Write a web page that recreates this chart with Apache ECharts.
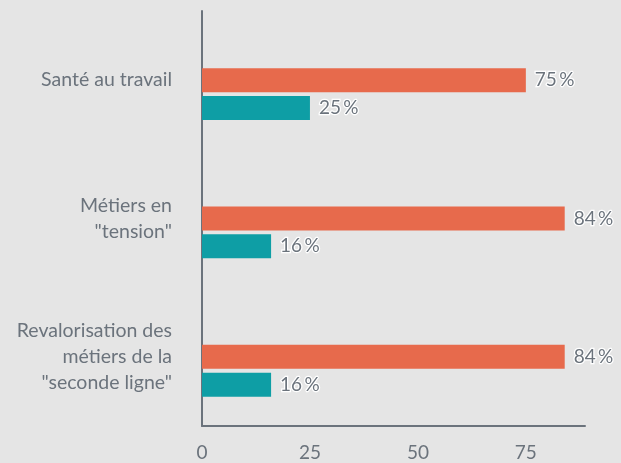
<!DOCTYPE html>
<html>
<head>
<meta charset="utf-8">
<script src="https://cdn.jsdelivr.net/npm/echarts@6/dist/echarts.min.js"></script>
<style>
html,body{margin:0;padding:0;background:#e5e5e5;}
#chart{width:621px;height:463px;}
</style>
</head>
<body>
<div id="chart"></div>
<script>
// données
var categories = ['Santé au travail', 'Métiers en\n"tension"', 'Revalorisation des\nmétiers de la\n"seconde ligne"'];
var orangeValues = [75, 84, 84];
var tealValues = [25, 16, 16];
var spacer = [0, 0, 0];
var xTicks = [0, 25, 50, 75];

var grey = '#6b737c';
var myChart = echarts.init(document.getElementById('chart'));

var valueLabel = {
    show: true,
    position: 'right',
    distance: 9,
    formatter: '{c}\u2009%',
    fontFamily: 'Lato',
    fontSize: 19,
    color: grey,
    textBorderColor: '#fff',
    textBorderWidth: 2.5
};

myChart.setOption({
    backgroundColor: '#e5e5e5',
    animation: false,
    grid: {
        left: 202,
        right: 36,
        top: 11,
        bottom: 37
    },
    xAxis: {
        type: 'value',
        min: 0,
        max: 88.7,
        interval: 25,
        splitLine: { show: false },
        axisTick: { show: false },
        axisLine: { show: true, lineStyle: { color: grey, width: 2 } },
        axisLabel: {
            showMaxLabel: false,
            margin: 17,
            fontFamily: 'Lato',
            fontSize: 19,
            color: grey,
            formatter: function (v) {
                return xTicks.indexOf(v) >= 0 ? String(v) : '';
            }
        }
    },
    yAxis: {
        type: 'category',
        inverse: true,
        data: categories,
        axisTick: { show: false },
        axisLine: { show: true, lineStyle: { color: grey, width: 2 } },
        axisLabel: {
            margin: 30,
            fontFamily: 'Lato',
            fontSize: 19.5,
            lineHeight: 26,
            color: grey,
            align: 'right'
        }
    },
    series: [
        {
            // espace vide pour décaler les barres sous le libellé
            type: 'bar',
            data: spacer,
            barWidth: 24,
            barGap: '16%',
            itemStyle: { color: 'rgba(0,0,0,0)' },
            silent: true
        },
        {
            type: 'bar',
            data: orangeValues,
            barWidth: 24,
            barGap: '16%',
            itemStyle: { color: '#e76a4c' },
            label: valueLabel
        },
        {
            type: 'bar',
            data: tealValues,
            barWidth: 24,
            barGap: '16%',
            itemStyle: { color: '#0e9ea5' },
            label: valueLabel
        }
    ]
});
</script>
</body>
</html>
